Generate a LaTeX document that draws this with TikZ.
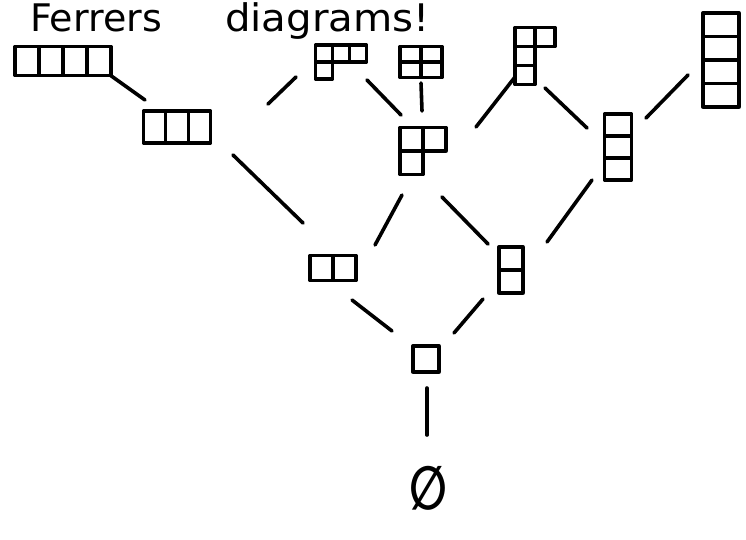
\documentclass[tikz,border=0pt]{standalone}
\usepackage{graphicx}
\usepackage{fontspec}
\newfontfamily\titlefont{DejaVu Sans}
\tikzset{
  edge/.style={line width=3.6pt, line cap=round},
  cell/.style={line width=3.3pt, line join=round, line cap=round},
  ydiag/.style={rectangle, inner sep=0pt, outer sep=0pt},
  ttl/.style={anchor=base west, inner sep=0pt, font=\titlefont\fontsize{38}{44}\selectfont},
}
\newcommand\ycells[4]{%
  \foreach \len [count=\r from 0] in {#4} {%
    \foreach \c in {1,...,\len} {%
      \draw[cell] ([shift={({(\c-1)*#2},{\r*#3})}]#1.north west) rectangle ++(#2,#3);
    }%
  }%
}
\begin{document}
\begin{tikzpicture}[x=1pt,y=-1pt]
\path[fill=white, use as bounding box] (0,0) rectangle (746,539);

% title
\node[ttl] (t1) at (30,31) {Ferrers};
\node[ttl] (t2) at (225,31) {\scalebox{1.06}[1]{diagrams!}};

% Young diagrams (nodes sized to their cells)
\node[ydiag, minimum width=96pt, minimum height=29pt] (D4) at (63,61) {};
\node[ydiag, minimum width=67pt, minimum height=32pt] (D3) at (177,127) {};
\node[ydiag, minimum width=51pt, minimum height=34pt] (D31) at (341,62) {};
\node[ydiag, minimum width=42pt, minimum height=31pt] (D22) at (421,62) {};
\node[ydiag, minimum width=40pt, minimum height=57pt] (D211) at (535,56) {};
\node[ydiag, minimum width=36pt, minimum height=94pt] (D1111) at (721,60) {};
\node[ydiag, minimum width=46pt, minimum height=47pt] (D21) at (423,151) {};
\node[ydiag, minimum width=27pt, minimum height=66pt] (D111) at (618,147) {};
\node[ydiag, minimum width=46pt, minimum height=25pt] (D2) at (333,268) {};
\node[ydiag, minimum width=24pt, minimum height=46pt] (D11) at (511,270) {};
\node[ydiag, minimum width=26pt, minimum height=26pt] (D1) at (426,359) {};
\node[inner sep=0pt] (E) at (428,488) {\scalebox{0.82}[1.12]{\titlefont\bfseries\fontsize{54}{60}\selectfont ∅}};

\ycells{D4}{24}{29}{4}
\ycells{D3}{22.33}{32}{3}
\ycells{D31}{17}{17}{3,1}
\ycells{D22}{21}{15.5}{2,2}
\ycells{D211}{20}{19}{2,1,1}
\ycells{D1111}{36}{23.5}{1,1,1,1}
\ycells{D21}{23}{23.5}{2,1}
\ycells{D111}{27}{22}{1,1,1}
\ycells{D2}{23}{25}{2}
\ycells{D11}{24}{23}{1,1}
\ycells{D1}{26}{26}{1}

% connectors
\draw[edge] ([shift={(47,14)}]D4.center) -- ([shift={(-32,-27)}]D3.center);
\draw[edge] ([shift={(91,-23)}]D3.center) -- ([shift={(-45,15)}]D31.center);
\draw[edge] ([shift={(26,18)}]D31.center) -- ([shift={(-22,-36)}]D21.center);
\draw[edge] ([shift={(0,21)}]D22.center) -- ([shift={(-1,-40)}]D21.center);
\draw[edge] ([shift={(-20,21)}]D211.center) -- ([shift={(53,-24)}]D21.center);
\draw[edge] ([shift={(10,32)}]D211.center) -- ([shift={(-31,-19)}]D111.center);
\draw[edge] ([shift={(-33,15)}]D1111.center) -- ([shift={(28,-29)}]D111.center);
\draw[edge] ([shift={(56,28)}]D3.center) -- ([shift={(-30,-45)}]D2.center);
\draw[edge] ([shift={(-21,44)}]D21.center) -- ([shift={(42,-23)}]D2.center);
\draw[edge] ([shift={(19,46)}]D21.center) -- ([shift={(-23,-26)}]D11.center);
\draw[edge] ([shift={(-26,33)}]D111.center) -- ([shift={(36,-28)}]D11.center);
\draw[edge] ([shift={(19,32)}]D2.center) -- ([shift={(-34,-28)}]D1.center);
\draw[edge] ([shift={(-28,29)}]D11.center) -- ([shift={(28,-26)}]D1.center);
\draw[edge] ([shift={(1,29)}]D1.center) -- ([shift={(-1,-53)}]E.center);
\end{tikzpicture}
\end{document}
